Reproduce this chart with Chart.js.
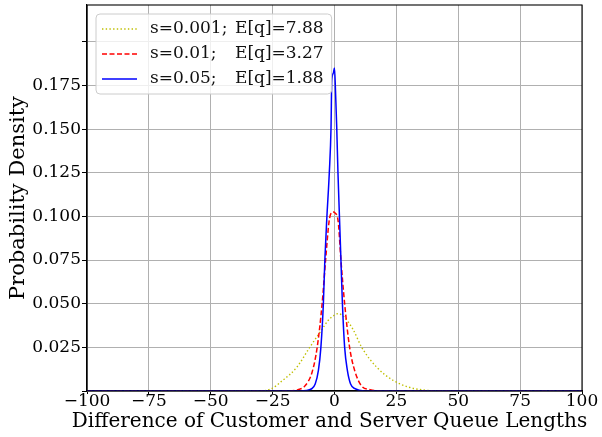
<!DOCTYPE html>
<html>
<head>
<meta charset="utf-8">
<script src="https://cdn.jsdelivr.net/npm/chart.js@4.4.0/dist/chart.umd.min.js"></script>
<style>
  html, body { margin: 0; padding: 0; background: #fff; }
  #wrap { width: 602px; height: 437px; position: relative; }
</style>
</head>
<body>
<div id="wrap"><canvas id="chart"></canvas></div>
<script>
// legend text, two columns
const sLabels = ["s=0.001;", "s=0.01;", "s=0.05;"];
const eqLabels = ["E[q]=7.88", "E[q]=3.27", "E[q]=1.88"];
const xTitle = "Difference of Customer and Server Queue Lengths";
const yTitle = "Probability Density";

// ticks
const xTicks = [-100, -75, -50, -25, 0, 25, 50, 75, 100];
const yTicks = [0, 0.025, 0.05, 0.075, 0.1, 0.125, 0.15, 0.175, 0.2];
const yTickLabels = ["", "0.025", "0.050", "0.075", "0.100", "0.125", "0.150", "0.175", ""];

// s=0.001
const x001 = [-100, -32, -26, -21, -15.3, -10, -5.2, -2.5, 0, 1.5, 3, 5, 7.6, 11, 17, 23.8, 30.5, 37, 43, 100];
const y001 = [0, 0, 0.001, 0.006, 0.0135, 0.025, 0.035, 0.0405, 0.0435, 0.0443, 0.0435, 0.0405, 0.035, 0.025, 0.0137, 0.006, 0.002, 0.0004, 0, 0];

// s=0.01
const x01 = [-100, -18, -14.8, -12, -9, -7, -5, -3.6, -2.2, -1.3, -0.5, 0.2, 1.5, 2.6, 4.1, 6.1, 8.2, 11, 14.4, 18, 100];
const y01 = [0, 0, 0.0008, 0.0028, 0.011, 0.025, 0.05, 0.075, 0.097, 0.102, 0.1025, 0.102, 0.097, 0.075, 0.05, 0.025, 0.0115, 0.0028, 0.0008, 0, 0];

// s=0.05
const x05 = [-100, -14, -9.2, -7.8, -6.5, -5.5, -4.5, -3.9, -3.1, -2.1, -1.4, -1.1, -0.5, 0, 0.4, 0.9, 1.4, 2.0, 2.6, 3.2, 4.1, 5.2, 6.5, 8.3, 12, 100];
const y05 = [0, 0, 0.0013, 0.004, 0.0118, 0.025, 0.05, 0.075, 0.099, 0.125, 0.151, 0.178, 0.182, 0.185, 0.172, 0.151, 0.125, 0.1, 0.075, 0.05, 0.025, 0.0118, 0.004, 0.0013, 0, 0];

const FONT = "'DejaVu Serif', serif";

function toPoints(xs, ys) {
  return xs.map((x, i) => ({ x: x, y: ys[i] }));
}

// matplotlib-like legend box inside the axes, the full black frame,
// and the x title (chart.js squeezes it to the axis width otherwise)
const frameLegend = {
  id: "frameLegend",
  afterDatasetsDraw(chart) {
    const { ctx, chartArea } = chart;
    ctx.save();
    ctx.strokeStyle = "#000";
    ctx.lineWidth = 1.1;
    ctx.strokeRect(chartArea.left, chartArea.top, chartArea.right - chartArea.left, chartArea.bottom - chartArea.top);

    ctx.font = "20px " + FONT;
    ctx.fillStyle = "#000";
    ctx.textAlign = "center";
    ctx.textBaseline = "middle";
    ctx.fillText(xTitle, (chartArea.left + chartArea.right) / 2 - 5, chartArea.bottom + 31);

    ctx.font = "17px " + FONT;
    const bx = chartArea.left + 9;
    const by = chartArea.top + 9;
    const col2 = bx + 139;
    let maxW = 0;
    eqLabels.forEach((t) => { maxW = Math.max(maxW, ctx.measureText(t).width); });
    const bw = col2 + maxW + 8 - bx;
    const bh = 80;

    ctx.beginPath();
    ctx.roundRect(bx, by, bw, bh, 4);
    ctx.fillStyle = "rgba(255,255,255,0.8)";
    ctx.fill();
    ctx.strokeStyle = "#cccccc";
    ctx.lineWidth = 1;
    ctx.stroke();

    const order = [2, 1, 0];
    order.forEach((di, row) => {
      const ds = chart.data.datasets[di];
      const cy = by + 15 + row * 25;
      ctx.beginPath();
      ctx.setLineDash(ds.borderDash || []);
      ctx.strokeStyle = ds.borderColor;
      ctx.lineWidth = ds.borderWidth;
      ctx.moveTo(bx + 6, cy);
      ctx.lineTo(bx + 41, cy);
      ctx.stroke();
      ctx.setLineDash([]);
      ctx.fillStyle = "#111";
      ctx.textBaseline = "middle";
      ctx.textAlign = "left";
      ctx.fillText(sLabels[row], bx + 54, cy);
      ctx.fillText(eqLabels[row], col2, cy);
    });
    ctx.restore();
  },
};

new Chart(document.getElementById("chart"), {
  type: "line",
  data: {
    datasets: [
      {
        label: sLabels[2] + " " + eqLabels[2],
        data: toPoints(x05, y05),
        borderColor: "#0000ff",
        borderWidth: 1.5,
        order: 0,
      },
      {
        label: sLabels[1] + " " + eqLabels[1],
        data: toPoints(x01, y01),
        borderColor: "#ff0000",
        borderWidth: 1.5,
        borderDash: [5, 2.5],
        order: 1,
      },
      {
        label: sLabels[0] + " " + eqLabels[0],
        data: toPoints(x001, y001),
        borderColor: "#bfbf00",
        borderWidth: 1.4,
        borderDash: [1.4, 2.3],
        order: 2,
      },
    ],
  },
  options: {
    responsive: true,
    maintainAspectRatio: false,
    animation: false,
    layout: { padding: { left: 0, right: 20, top: 5, bottom: 0 } },
    elements: {
      point: { radius: 0 },
      line: { cubicInterpolationMode: "monotone", fill: false },
    },
    plugins: {
      legend: { display: false },
      tooltip: { enabled: false },
    },
    scales: {
      x: {
        type: "linear",
        min: -100,
        max: 100,
        afterBuildTicks: (s) => { s.ticks = xTicks.map((v) => ({ value: v })); },
        afterFit: (s) => { s.height = 46; s.paddingLeft = 0; s.paddingRight = 0; },
        grid: { color: "#b0b0b0", lineWidth: 1, tickColor: "#000", tickLength: 3 },
        border: { color: "#000", width: 1.1 },
        ticks: {
          color: "#000",
          padding: -1,
          maxRotation: 0,
          font: { family: FONT, size: 17, lineHeight: 1 },
          callback: (v) => String(v).replace("-", "\u2212"),
        },
        title: { display: false },
      },
      y: {
        type: "linear",
        min: 0,
        max: 0.2211,
        afterBuildTicks: (s) => { s.ticks = yTicks.map((v) => ({ value: v })); },
        afterFit: (s) => { s.width = 87; s.paddingTop = 0; s.paddingBottom = 0; },
        grid: { color: "#b0b0b0", lineWidth: 1, tickColor: "#000", tickLength: 5 },
        border: { color: "#000", width: 1.1 },
        ticks: {
          color: "#000",
          padding: 1,
          font: { family: FONT, size: 17, lineHeight: 1 },
          callback: (v, i) => yTickLabels[i],
        },
        title: {
          display: true,
          text: yTitle,
          color: "#000",
          font: { family: FONT, size: 21, lineHeight: 1.2 },
          padding: { top: 6.4, bottom: 0 },
        },
      },
    },
  },
  plugins: [frameLegend],
});
</script>
</body>
</html>
